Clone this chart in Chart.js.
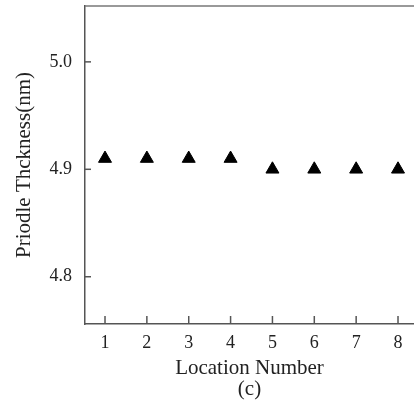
<!DOCTYPE html>
<html>
<head>
<meta charset="utf-8">
<script src="https://cdn.jsdelivr.net/npm/chart.js@4/dist/chart.umd.min.js"></script>
<style>
  html, body { margin: 0; padding: 0; background: #fff; }
  #wrap { width: 414px; height: 401px; }
</style>
</head>
<body>
<div id="wrap"><canvas id="chart" width="414" height="401"></canvas></div>
<script>
const locations = [1, 2, 3, 4, 5, 6, 7, 8];
const thickness = [4.91, 4.91, 4.91, 4.91, 4.90, 4.90, 4.90, 4.90];
const yTicks = [4.8, 4.9, 5.0];
const xTicks = [1, 2, 3, 4, 5, 6, 7, 8];

const serif = "'Liberation Serif', 'DejaVu Serif', serif";
const axisColor = "#555";

// ticks point inward and the frame has a top edge, so draw those by hand
const frame = {
  id: "frame",
  afterDraw(chart) {
    const ctx = chart.ctx;
    const a = chart.chartArea;
    const xs = chart.scales.x, ys = chart.scales.y;
    ctx.save();
    ctx.strokeStyle = "#777";
    ctx.lineWidth = 1.5;
    ctx.beginPath();
    ctx.moveTo(a.left, a.top);
    ctx.lineTo(a.right, a.top);
    ctx.stroke();
    ctx.strokeStyle = axisColor;
    xTicks.forEach(v => {
      const px = xs.getPixelForValue(v);
      ctx.beginPath();
      ctx.moveTo(px, a.bottom);
      ctx.lineTo(px, a.bottom - 8);
      ctx.stroke();
    });
    yTicks.forEach(v => {
      const py = ys.getPixelForValue(v);
      ctx.beginPath();
      ctx.moveTo(a.left, py);
      ctx.lineTo(a.left + 6, py);
      ctx.stroke();
    });
    ctx.restore();
  }
};

function noPad(s) {
  s.paddingLeft = 0; s.paddingRight = 0; s.paddingTop = 0; s.paddingBottom = 0;
}

new Chart(document.getElementById("chart").getContext("2d"), {
  type: "scatter",
  data: {
    datasets: [{
      data: locations.map((x, i) => ({ x: x, y: thickness[i] })),
      pointStyle: "triangle",
      pointRadius: 7.5,
      backgroundColor: "#000",
      borderColor: "#000",
      borderWidth: 1
    }]
  },
  options: {
    responsive: false,
    animation: false,
    layout: { autoPadding: false, padding: { top: 6, left: 0, right: 0, bottom: 0 } },
    plugins: { legend: { display: false }, tooltip: { enabled: false } },
    scales: {
      x: {
        type: "linear",
        min: 0.522,
        max: 8.382,
        afterBuildTicks: s => { s.ticks = xTicks.map(v => ({ value: v })); },
        afterFit: s => { s.height = 77; noPad(s); },
        grid: { display: false, drawTicks: false },
        border: { display: true, color: axisColor, width: 1.5 },
        ticks: { color: "#222", padding: 8, font: { family: serif, size: 18 } },
        title: {
          display: true,
          text: ["Location Number", "(c)"],
          color: "#222",
          padding: { top: 0, bottom: 1 },
          font: { family: serif, size: 21, lineHeight: 1.0 }
        }
      },
      y: {
        min: 4.756,
        max: 5.052,
        afterBuildTicks: s => { s.ticks = yTicks.map(v => ({ value: v })); },
        afterFit: s => { s.width = 85; noPad(s); },
        grid: { display: false, drawTicks: false },
        border: { display: true, color: axisColor, width: 1.5 },
        ticks: {
          color: "#222",
          padding: 13,
          font: { family: serif, size: 18 },
          callback: v => Number(v).toFixed(1)
        },
        title: {
          display: true,
          text: "Priodle Thckness(nm)",
          color: "#222",
          padding: { top: 12, bottom: 0 },
          font: { family: serif, size: 21 }
        }
      }
    }
  },
  plugins: [frame]
});
</script>
</body>
</html>
